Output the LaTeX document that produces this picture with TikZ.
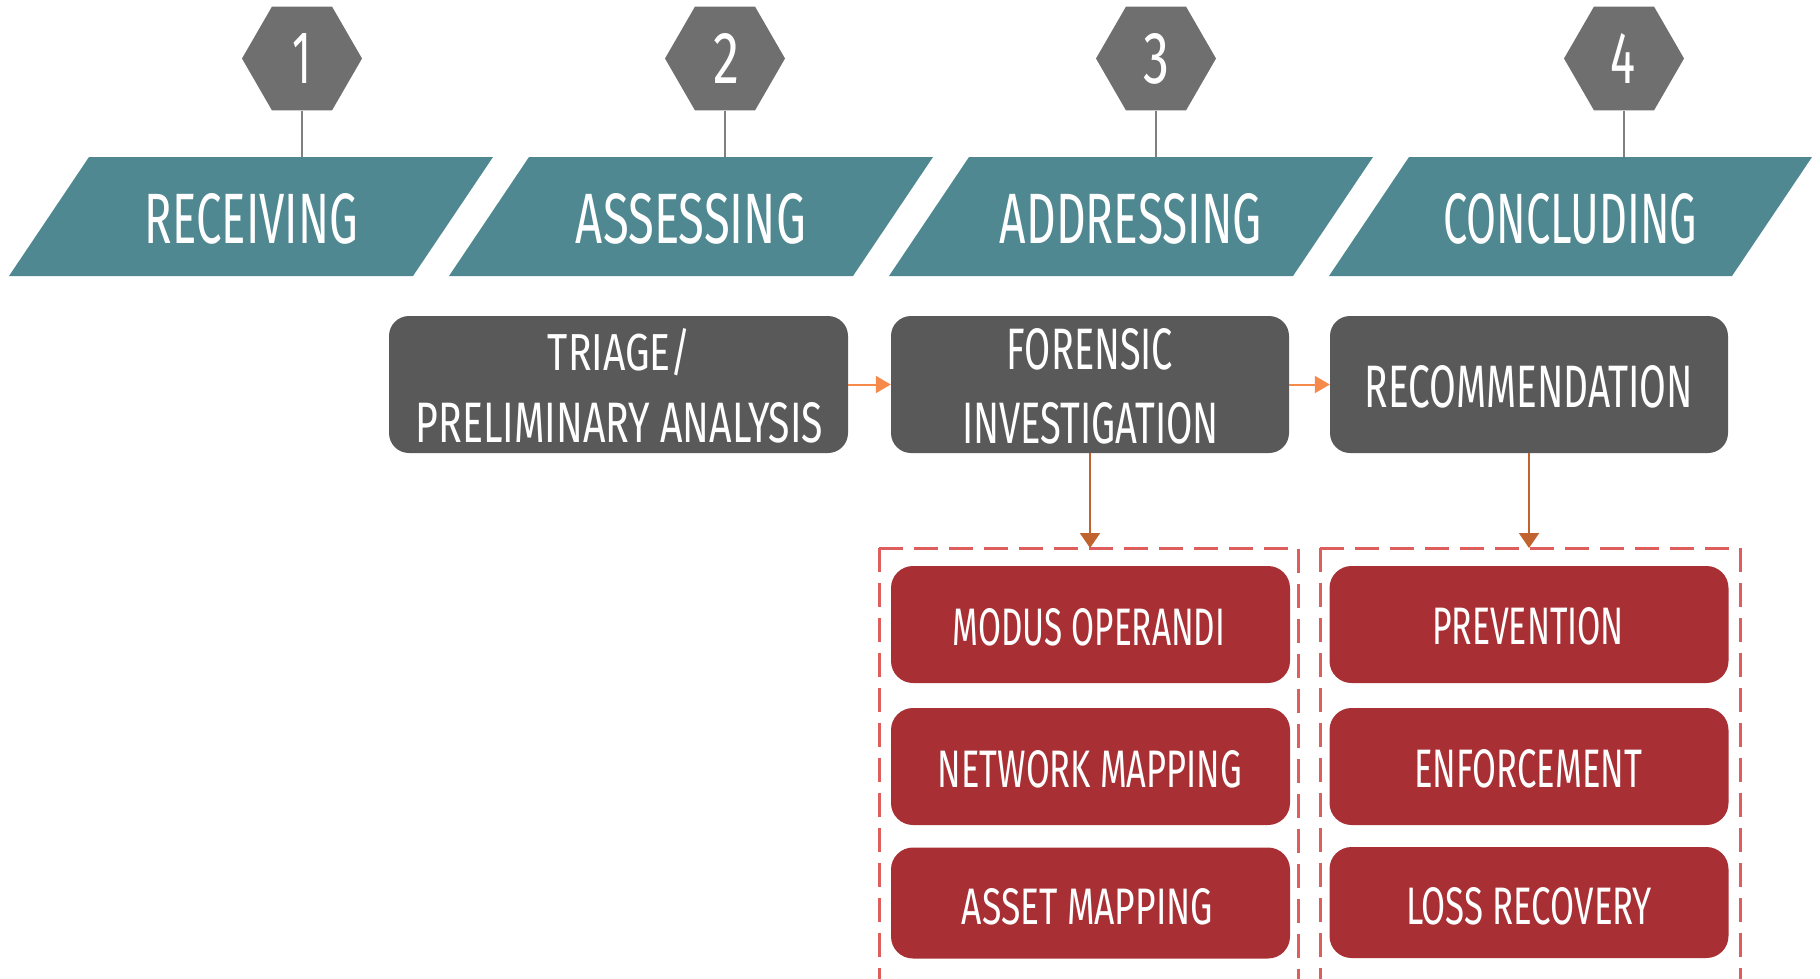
\documentclass[tikz,border=0pt]{standalone}
\usepackage{fontspec}
\usepackage{graphicx}
\usetikzlibrary{arrows.meta,shapes.geometric}
\newfontfamily\cf{Fira Sans}
\definecolor{tealc}{HTML}{4F8891}
\definecolor{hexc}{HTML}{6F6F6F}
\definecolor{stemc}{HTML}{808080}
\definecolor{darkc}{HTML}{595959}
\definecolor{redc}{HTML}{A83034}
\definecolor{dashc}{HTML}{DE5E5E}
\definecolor{orangec}{HTML}{F58A4B}
\definecolor{brownc}{HTML}{C0632F}
\newcommand\lbl[3]{\resizebox{#1pt}{#2pt}{\cf #3}}
\begin{document}
\begin{tikzpicture}[x=1pt,y=-1pt,
  hexa/.style={regular polygon, regular polygon sides=6, minimum size=120pt, inner sep=0pt, fill=hexc},
  lab/.style={text=white, inner sep=0pt, anchor=base},
  stem/.style={draw=stemc, line width=2pt},
  para/.style={fill=tealc},
  darkbox/.style={fill=darkc, rounded corners=20pt, inner sep=0pt, minimum width=#1, minimum height=137pt},
  redbox/.style={fill=redc, rounded corners=22pt, inner sep=0pt, minimum width=399pt},
  dashbox/.style={draw=dashc, line width=3pt, dash pattern=on 24pt off 11pt},
  oarrow/.style={draw=orangec, line width=2pt, -{Triangle[length=15pt,width=17pt]}},
  barrow/.style={draw=brownc, line width=2pt, -{Triangle[length=15pt,width=20pt]}}]
\useasboundingbox (0,0) rectangle (1820,978);

% parallelograms
\fill[para] (9,276) -- (89,157) -- (493,157) -- (413,276) -- cycle;
\fill[para] (449,276) -- (529,157) -- (933,157) -- (853,276) -- cycle;
\fill[para] (889,276) -- (969,157) -- (1373,157) -- (1293,276) -- cycle;
\fill[para] (1329,276) -- (1409,157) -- (1812,157) -- (1732,276) -- cycle;
\coordinate (t1) at (302,157);
\coordinate (t2) at (725,157);
\coordinate (t3) at (1156,157);
\coordinate (t4) at (1624,157);

\node[lab] (l1) at (251.5,243) {\lbl{213}{50}{RECEIVING}};
\node[lab] (l2) at (691,243) {\lbl{230}{50}{ASSESSING}};
\node[lab] (l3) at (1131,243) {\lbl{262}{50}{ADDRESSING}};
\node[lab] (l4) at (1570,243) {\lbl{254}{50}{CONCLUDING}};

% hexagons
\node[hexa] (h1) at (302,58.5) {};
\node[hexa] (h2) at (725,58.5) {};
\node[hexa] (h3) at (1156,58.5) {};
\node[hexa] (h4) at (1624,58.5) {};
\node[lab] (n1) at (302.5,83) {\lbl{19}{50}{1}};
\node[lab] (n2) at (726,83) {\lbl{26}{50}{2}};
\node[lab] (n3) at (1156,83) {\lbl{26}{50}{3}};
\node[lab] (n4) at (1623,83) {\lbl{25}{50}{4}};
\draw[stem] (h1.south) -- (t1);
\draw[stem] (h2.south) -- (t2);
\draw[stem] (h3.south) -- (t3);
\draw[stem] (h4.south) -- (t4);

% dark boxes
\node[darkbox=459pt] (triage) at (618.5,384.5) {};
\node[darkbox=398pt] (forensic) at (1090,384.5) {};
\node[darkbox=398pt] (recommend) at (1529,384.5) {};
\node[lab] (tr1) at (619.5,370) {\lbl{143}{42}{TRIAGE/}};
\node[lab] (tr2) at (619.5,442) {\lbl{407}{40}{PRELIMINARY ANALYSIS}};
\node[lab] (fo1) at (1090,369) {\lbl{166}{41}{FORENSIC}};
\node[lab] (fo2) at (1090.5,443) {\lbl{257}{41}{INVESTIGATION}};
\node[lab] (re1) at (1529,407) {\lbl{328}{42}{RECOMMENDATION}};
\draw[oarrow] (triage) -- (forensic);
\draw[oarrow] (forensic) -- (recommend);

% dashed groups
\draw[dashbox] (879,548) -- (1298,548) -- (1298,985);
\draw[dashbox] (879,548) -- (879,985);
\draw[dashbox] (1320,548) -- (1740,548) -- (1740,985);
\draw[dashbox] (1320,548) -- (1320,985);
\coordinate (d1) at (1090,548);
\coordinate (d2) at (1529,548);
\draw[barrow] (forensic) -- (d1);
\draw[barrow] (recommend) -- (d2);

% red boxes
\node[redbox, minimum height=117pt] (mo) at (1090.5,624.5) {};
\node[redbox, minimum height=117pt] (nm) at (1090.5,766.5) {};
\node[redbox, minimum height=111pt] (am) at (1090.5,903) {};
\node[redbox, minimum height=117pt] (pv) at (1529,624.5) {};
\node[redbox, minimum height=117pt] (ef) at (1529,766.5) {};
\node[redbox, minimum height=111pt] (lr) at (1529,902.5) {};
\node[lab] (mot) at (1089,645) {\lbl{272}{37}{MODUS OPERANDI}};
\node[lab] (nmt) at (1090,787) {\lbl{304}{37}{NETWORK MAPPING}};
\node[lab] (amt) at (1087.5,924) {\lbl{251}{36}{ASSET MAPPING}};
\node[lab] (pvt) at (1528,644) {\lbl{192}{37}{PREVENTION}};
\node[lab] (eft) at (1528,787) {\lbl{228}{38}{ENFORCEMENT}};
\node[lab] (lrt) at (1529,924) {\lbl{246}{37}{LOSS RECOVERY}};
\end{tikzpicture}
\end{document}
